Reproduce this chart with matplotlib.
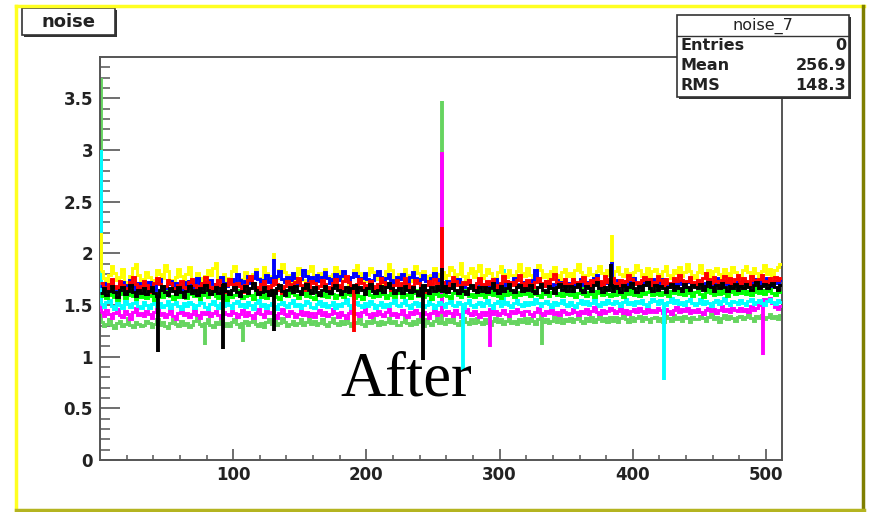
import numpy as np
import matplotlib
matplotlib.use('Agg')
import matplotlib.pyplot as plt
from matplotlib.patches import Rectangle

# ---------------------------------------------------------
# pedestal noise per channel pair (2 channels / bin), x0.01
# ---------------------------------------------------------
nbins = 256
edges = np.linspace(0, 512, nbins + 1)

noise_yellow = [
    183, 176, 171, 179, 188, 181, 174, 177, 185, 172, 170, 178, 186, 190, 179, 173,
    175, 182, 177, 169, 174, 184, 180, 176, 189, 183, 174, 171, 177, 185, 178, 172,
    180, 187, 175, 173, 181, 176, 170, 178, 184, 179, 186, 191, 177, 174, 180, 169,
    176, 183, 188, 179, 172, 175, 182, 177, 171, 180, 185, 176, 173, 187, 181, 175,
    178, 172, 176, 184, 190, 182, 175, 179, 173, 177, 186, 180, 174, 171, 183, 188,
    177, 174, 181, 176, 185, 178, 172, 180, 187, 183, 176, 179, 174, 170, 177, 184,
    189, 181, 176, 173, 179, 186, 182, 175, 178, 171, 176, 183, 190, 184, 177, 174,
    180, 177, 185, 179, 173, 176, 188, 181, 175, 183, 178, 172, 179, 186, 176, 180,
    182, 176, 179, 187, 184, 175, 180, 191, 178, 174, 181, 186, 177, 183, 189, 176,
    179, 185, 181, 176, 174, 182, 188, 180, 177, 184, 179, 175, 183, 190, 181, 178,
    186, 179, 175, 181, 189, 184, 177, 180, 176, 183, 187, 179, 174, 182, 185, 178,
    181, 177, 184, 190, 182, 176, 179, 186, 180, 175, 183, 188, 181, 177, 184, 179,
    176, 183, 187, 180, 178, 185, 181, 174, 182, 189, 184, 178, 180, 186, 177, 183,
    185, 180, 177, 183, 188, 179, 176, 184, 181, 187, 178, 182, 190, 183, 179, 176,
    182, 189, 181, 178, 184, 177, 183, 186, 180, 176, 185, 181, 178, 187, 182, 179,
    177, 184, 188, 182, 179, 186, 181, 176, 183, 189, 180, 185, 178, 184, 187, 190]
noise_red = [
    171, 167, 164, 170, 175, 168, 166, 173, 169, 162, 166, 172, 177, 170, 165, 168,
    173, 169, 163, 167, 171, 176, 170, 165, 168, 174, 171, 166, 162, 169, 173, 167,
    166, 172, 175, 169, 164, 168, 171, 177, 172, 167, 165, 170, 174, 168, 163, 169,
    175, 170, 166, 171, 168, 163, 169, 174, 178, 171, 167, 164, 170, 173, 168, 165,
    169, 174, 170, 165, 162, 168, 173, 170, 166, 172, 176, 169, 165, 171, 167, 173,
    171, 166, 168, 174, 170, 167, 164, 171, 175, 169, 166, 173, 178, 172, 168, 165,
    170, 175, 171, 166, 169, 173, 168, 164, 170, 176, 172, 167, 171, 165, 169, 174,
    167, 171, 176, 170, 165, 168, 174, 171, 167, 163, 169, 173, 170, 175, 171, 166,
    172, 168, 165, 171, 177, 173, 169, 166, 172, 170, 174, 168, 165, 171, 176, 170,
    168, 173, 170, 175, 169, 166, 171, 178, 173, 168, 172, 169, 174, 179, 171, 167,
    174, 170, 167, 172, 176, 171, 168, 173, 169, 175, 180, 172, 168, 171, 175, 170,
    169, 175, 172, 168, 173, 177, 171, 167, 174, 170, 176, 173, 169, 178, 172, 175,
    176, 171, 168, 174, 170, 173, 179, 175, 170, 172, 168, 174, 177, 171, 175, 169,
    172, 178, 174, 169, 175, 171, 168, 176, 173, 179, 174, 170, 173, 177, 172, 168,
    174, 170, 176, 181, 175, 171, 177, 173, 169, 174, 178, 172, 176, 170, 175, 179,
    171, 176, 173, 169, 178, 174, 170, 175, 179, 173, 170, 176, 172, 177, 174, 176]
noise_blue = [
    168, 171, 165, 169, 173, 167, 163, 170, 172, 166, 169, 174, 168, 164, 171, 167,
    170, 166, 172, 169, 165, 171, 175, 168, 166, 170, 173, 167, 171, 169, 164, 172,
    169, 173, 167, 170, 176, 171, 166, 172, 169, 174, 170, 167, 173, 177, 171, 168,
    172, 175, 170, 180, 174, 169, 173, 178, 171, 176, 182, 175, 170, 174, 179, 172,
    176, 171, 178, 183, 175, 172, 177, 174, 181, 176, 171, 175, 184, 178, 173, 177,
    174, 179, 173, 177, 182, 176, 171, 175, 180, 174, 178, 183, 176, 172, 177, 181,
    178, 173, 176, 181, 175, 170, 174, 179, 183, 177, 172, 176, 180, 174, 171, 177,
    175, 180, 174, 171, 177, 182, 176, 172, 175, 179, 173, 170, 176, 181, 175, 172,
    171, 168, 173, 170, 166, 172, 175, 169, 167, 171, 174, 168, 165, 170, 173, 169,
    168, 172, 167, 171, 175, 170, 166, 169, 173, 168, 171, 176, 170, 167, 172, 169,
    172, 169, 174, 184, 176, 170, 168, 173, 171, 167, 170, 174, 169, 172, 168, 171,
    170, 173, 168, 171, 175, 169, 172, 167, 170, 176, 179, 172, 168, 171, 174, 169,
    167, 171, 174, 170, 168, 173, 169, 172, 176, 171, 167, 170, 173, 169, 172, 175,
    171, 168, 172, 175, 170, 167, 171, 174, 169, 173, 170, 167, 172, 176, 170, 168,
    173, 170, 167, 171, 174, 169, 172, 176, 171, 168, 173, 170, 175, 171, 168, 172,
    170, 174, 171, 168, 172, 175, 170, 173, 169, 172, 176, 171, 168, 173, 171, 174]
noise_black = [
    162, 166, 160, 164, 168, 163, 158, 165, 167, 161, 164, 169, 163, 159, 165, 162,
    166, 161, 164, 167, 162, 159, 165, 168, 163, 160, 166, 164, 161, 167, 163, 158,
    164, 168, 162, 165, 160, 166, 163, 169, 165, 161, 164, 167, 162, 166, 170, 164,
    161, 165, 167, 163, 159, 164, 168, 162, 166, 171, 165, 161, 163, 167, 164, 160,
    165, 162, 166, 169, 164, 160, 165, 167, 163, 168, 164, 161, 166, 170, 165, 162,
    167, 163, 160, 165, 168, 164, 162, 166, 169, 165, 161, 164, 167, 163, 166, 169,
    163, 167, 165, 161, 166, 170, 164, 162, 165, 168, 163, 167, 171, 166, 162, 165,
    166, 162, 168, 165, 163, 167, 164, 160, 166, 169, 165, 162, 167, 164, 168, 165,
    164, 168, 163, 166, 170, 165, 162, 167, 164, 161, 166, 169, 165, 163, 167, 164,
    167, 163, 166, 171, 165, 162, 168, 164, 166, 170, 165, 163, 167, 169, 164, 166,
    165, 169, 164, 162, 167, 170, 165, 163, 168, 166, 162, 167, 170, 165, 168, 164,
    168, 164, 167, 170, 165, 163, 168, 166, 164, 169, 172, 166, 163, 167, 165, 169,
    164, 168, 166, 163, 169, 165, 167, 171, 166, 163, 168, 165, 169, 172, 166, 164,
    169, 165, 168, 166, 163, 167, 170, 165, 168, 166, 164, 170, 167, 165, 169, 167,
    166, 170, 165, 168, 172, 167, 164, 169, 166, 171, 167, 164, 168, 166, 170, 165,
    168, 166, 170, 167, 165, 169, 172, 166, 168, 170, 166, 169, 171, 167, 165, 169]
noise_green = [
    159, 162, 157, 160, 164, 158, 155, 161, 163, 157, 160, 165, 159, 156, 162, 158,
    161, 157, 163, 159, 155, 160, 164, 158, 162, 166, 159, 156, 161, 158, 163, 160,
    157, 161, 164, 159, 162, 156, 160, 163, 158, 161, 165, 159, 157, 162, 160, 155,
    162, 158, 160, 165, 161, 157, 159, 163, 160, 156, 162, 164, 158, 161, 157, 163,
    160, 164, 158, 156, 161, 163, 159, 162, 166, 160, 157, 161, 164, 159, 162, 158,
    156, 160, 163, 159, 162, 158, 164, 161, 157, 160, 163, 158, 161, 165, 160, 157,
    161, 159, 156, 162, 165, 160, 158, 162, 159, 164, 161, 157, 160, 163, 158, 162,
    163, 158, 161, 160, 157, 162, 165, 159, 161, 158, 163, 160, 156, 161, 164, 159,
    160, 163, 159, 157, 162, 164, 160, 158, 162, 165, 159, 161, 158, 163, 160, 162,
    158, 161, 164, 160, 163, 159, 157, 162, 160, 164, 161, 158, 163, 160, 166, 161,
    162, 159, 161, 165, 160, 158, 163, 161, 159, 163, 166, 160, 162, 159, 164, 161,
    160, 164, 158, 162, 166, 161, 159, 163, 161, 158, 164, 162, 160, 165, 161, 159,
    163, 160, 165, 161, 158, 163, 161, 166, 160, 162, 159, 164, 161, 163, 167, 160,
    161, 165, 160, 163, 161, 159, 164, 162, 166, 161, 163, 160, 165, 162, 159, 163,
    164, 161, 158, 163, 166, 162, 160, 164, 161, 167, 162, 159, 163, 165, 161, 164,
    162, 166, 161, 164, 160, 163, 167, 162, 165, 161, 164, 166, 162, 160, 165, 163]
noise_cyan = [
    151, 148, 153, 155, 149, 146, 152, 150, 147, 154, 151, 148, 152, 156, 149, 147,
    153, 150, 147, 151, 155, 149, 152, 148, 150, 154, 147, 151, 153, 149, 146, 152,
    149, 153, 151, 147, 150, 155, 152, 148, 146, 151, 154, 150, 147, 152, 149, 153,
    150, 147, 152, 154, 149, 151, 148, 153, 150, 146, 152, 155, 149, 151, 147, 150,
    152, 149, 146, 151, 153, 150, 148, 152, 155, 149, 151, 147, 150, 154, 152, 148,
    147, 151, 154, 149, 152, 148, 150, 153, 147, 151, 149, 152, 156, 150, 147, 151,
    153, 150, 148, 152, 149, 154, 151, 147, 150, 153, 148, 151, 149, 152, 155, 150,
    149, 152, 155, 150, 147, 151, 153, 149, 152, 148, 150, 154, 151, 147, 150, 153,
    151, 148, 152, 154, 150, 149, 153, 151, 147, 152, 155, 150, 148, 151, 153, 149,
    152, 155, 150, 147, 152, 154, 149, 151, 153, 150, 148, 152, 155, 151, 149, 153,
    150, 153, 151, 156, 152, 149, 152, 154, 151, 148, 153, 150, 152, 155, 151, 149,
    153, 150, 148, 152, 155, 151, 154, 150, 152, 156, 151, 149, 153, 151, 155, 152,
    151, 154, 152, 149, 153, 156, 151, 153, 150, 154, 152, 155, 151, 149, 153, 156,
    154, 151, 155, 152, 150, 153, 157, 152, 155, 151, 153, 150, 154, 156, 152, 150,
    152, 156, 151, 154, 152, 149, 153, 155, 151, 154, 157, 152, 150, 154, 153, 151,
    155, 152, 150, 154, 156, 151, 153, 155, 152, 150, 154, 156, 153, 151, 155, 153]
noise_magenta = [
    143, 139, 145, 141, 137, 142, 146, 140, 138, 144, 141, 136, 143, 147, 140, 142,
    139, 144, 141, 137, 143, 146, 140, 142, 138, 141, 145, 139, 136, 142, 144, 140,
    142, 138, 141, 145, 140, 137, 143, 141, 146, 139, 142, 144, 140, 137, 143, 141,
    140, 144, 142, 138, 141, 145, 139, 143, 140, 137, 142, 146, 141, 138, 144, 142,
    143, 140, 137, 142, 146, 141, 139, 144, 142, 138, 141, 145, 140, 143, 139, 142,
    138, 142, 145, 140, 143, 139, 141, 146, 142, 138, 143, 140, 137, 142, 145, 141,
    142, 139, 143, 146, 141, 138, 142, 140, 144, 141, 139, 143, 146, 140, 142, 138,
    141, 145, 140, 138, 143, 141, 145, 142, 139, 143, 141, 137, 142, 145, 140, 143,
    143, 140, 144, 142, 139, 145, 141, 138, 143, 146, 142, 140, 144, 141, 138, 143,
    140, 143, 146, 141, 144, 140, 142, 145, 141, 139, 144, 142, 146, 143, 140, 144,
    144, 141, 139, 143, 147, 142, 140, 144, 142, 145, 141, 143, 140, 145, 143, 141,
    142, 146, 143, 140, 144, 142, 146, 141, 144, 148, 143, 141, 145, 142, 144, 147,
    145, 142, 144, 147, 142, 145, 141, 144, 146, 143, 147, 144, 142, 146, 143, 145,
    143, 147, 145, 142, 146, 144, 141, 145, 148, 143, 146, 144, 147, 142, 145, 143,
    146, 143, 141, 145, 147, 144, 146, 142, 145, 149, 144, 146, 143, 147, 145, 144,
    147, 144, 146, 143, 149, 145, 147, 150, 153, 156, 154, 157, 152, 148, 146, 149]
noise_lgreen = [
    134, 130, 132, 136, 131, 128, 133, 135, 130, 132, 137, 131, 129, 134, 132, 130,
    131, 135, 133, 129, 132, 136, 131, 134, 130, 128, 133, 136, 132, 130, 135, 131,
    133, 129, 131, 135, 138, 132, 130, 133, 136, 131, 129, 134, 132, 135, 130, 133,
    130, 134, 136, 132, 129, 133, 135, 131, 134, 137, 132, 130, 133, 129, 134, 136,
    132, 135, 131, 133, 137, 134, 130, 132, 135, 131, 133, 136, 131, 134, 138, 132,
    135, 131, 133, 136, 132, 130, 134, 137, 133, 131, 135, 132, 136, 133, 130, 134,
    133, 136, 132, 130, 135, 133, 137, 134, 131, 135, 132, 134, 137, 133, 135, 131,
    131, 134, 137, 133, 131, 135, 132, 136, 134, 130, 136, 133, 131, 135, 137, 133,
    134, 132, 136, 134, 138, 133, 131, 135, 137, 134, 132, 136, 133, 137, 134, 132,
    136, 133, 131, 135, 137, 134, 136, 132, 135, 138, 133, 135, 132, 136, 134, 137,
    133, 137, 135, 132, 136, 139, 134, 136, 133, 135, 138, 134, 137, 133, 136, 135,
    137, 134, 136, 139, 135, 133, 137, 135, 138, 134, 136, 140, 135, 137, 134, 138,
    135, 138, 134, 137, 140, 136, 134, 138, 135, 137, 139, 135, 138, 136, 134, 137,
    138, 135, 137, 134, 139, 137, 135, 140, 136, 138, 135, 139, 137, 134, 138, 136,
    136, 139, 137, 135, 138, 141, 136, 138, 134, 137, 140, 136, 139, 137, 135, 138,
    139, 136, 138, 141, 137, 135, 139, 137, 140, 136, 138, 141, 137, 139, 136, 140]

# single-channel outliers: channel, value
spk_ch_yellow, spk_val_yellow = [0, 130, 384], [2.2, 2.0, 2.18]
spk_ch_red, spk_val_red = [190, 256], [1.24, 2.25]
spk_ch_blue, spk_val_blue = [130, 384], [1.95, 1.92]
spk_ch_black, spk_val_black = [43, 92, 130, 242, 256, 383], [1.05, 1.07, 1.25, 0.97, 1.86, 1.9]
spk_ch_green, spk_val_green = [], []
spk_ch_cyan, spk_val_cyan = [0, 272, 303, 423], [3.0, 0.87, 1.85, 0.77]
spk_ch_magenta, spk_val_magenta = [0, 256, 292, 497], [2.9, 2.98, 1.09, 1.02]
spk_ch_lgreen, spk_val_lgreen = [0, 78, 107, 256, 331], [3.7, 1.11, 1.14, 3.47, 1.11]

# drawing order, bottom to top
series = [
    (noise_lgreen, '#66d460', spk_ch_lgreen, spk_val_lgreen),
    (noise_magenta, '#ff00ff', spk_ch_magenta, spk_val_magenta),
    (noise_cyan, '#00ffff', spk_ch_cyan, spk_val_cyan),
    (noise_green, '#00ff00', spk_ch_green, spk_val_green),
    (noise_yellow, '#ffff00', spk_ch_yellow, spk_val_yellow),
    (noise_blue, '#0000ff', spk_ch_blue, spk_val_blue),
    (noise_red, '#ff0000', spk_ch_red, spk_val_red),
    (noise_black, '#000000', spk_ch_black, spk_val_black),
]

W, H = 869, 512
fig = plt.figure(figsize=(W / 100, H / 100), dpi=100)
fig.patch.set_facecolor('white')

ax = fig.add_axes([100 / W, 1 - 460 / H, 682 / W, 403 / H])
for z, (vals, col, sch, sval) in enumerate(series):
    v = np.array(vals) / 100.0
    ax.stairs(v, edges, baseline=None, color=col, lw=2.1, zorder=2 + z)
    for ch, sv in zip(sch, sval):
        base = v[min(int(ch // 2), nbins - 1)]
        ax.vlines(ch + 0.5, base, sv, color=col, lw=2.8, zorder=2 + z)

ax.set_xlim(0, 512)
ax.set_ylim(0, 3.9)
ax.set_xticks([100, 200, 300, 400, 500])
ax.set_xticks(np.arange(20, 512, 20), minor=True)
ax.set_yticks(np.arange(0, 3.6, 0.5))
ax.set_yticklabels(['0', '0.5', '1', '1.5', '2', '2.5', '3', '3.5'])
ax.set_yticks(np.arange(0.1, 3.9, 0.1), minor=True)

tick_col = '#555555'
for s in ax.spines.values():
    s.set_color(tick_col)
    s.set_linewidth(1.4)
ax.tick_params(axis='y', which='major', direction='in', length=14.5, width=1.2,
               color=tick_col, pad=5)
ax.tick_params(axis='y', which='minor', direction='in', length=7, width=1.1, color=tick_col)
ax.tick_params(axis='x', which='major', direction='in', length=8, width=1.2,
               color=tick_col, pad=4)
ax.tick_params(axis='x', which='minor', direction='in', length=3.5, width=1.1, color=tick_col)
for lab in ax.get_xticklabels() + ax.get_yticklabels():
    lab.set_fontfamily('DejaVu Sans')
    lab.set_fontweight('bold')
    lab.set_fontsize(12)
    lab.set_color('#222222')

# overlay in pixel coordinates: canvas border, title box, stats box, caption
ov = fig.add_axes([0, 0, 1, 1], zorder=10)
ov.set_xlim(0, W)
ov.set_ylim(H, 0)
ov.axis('off')
ov.patch.set_alpha(0)

ov.plot([16, 16], [6, 510], color='#ffff20', lw=2.5)
ov.plot([16, 864], [6, 6], color='#ffff20', lw=2.5)
ov.plot([863, 863], [6, 510], color='#7f7f00', lw=2.5)
ov.plot([16, 864], [509.5, 509.5], color='#b4b420', lw=2.5)

# title box
ov.add_patch(Rectangle((24, 10), 93, 27, facecolor='#333333', edgecolor='none'))
ov.add_patch(Rectangle((22, 8), 93, 27, facecolor='white', edgecolor='#333333', lw=1.2))
ov.text(68.5, 22, 'noise', ha='center', va='center', fontsize=13,
        fontweight='bold', family='DejaVu Sans', color='#222222')

# stats box
ov.add_patch(Rectangle((679, 17), 172, 82, facecolor='#333333', edgecolor='none'))
ov.add_patch(Rectangle((677, 15), 172, 82, facecolor='white', edgecolor='#333333', lw=1.2))
ov.plot([677, 849], [36, 36], color='#333333', lw=1.0)
ov.text(763, 25.5, 'noise_7', ha='center', va='center', fontsize=11.5,
        family='DejaVu Sans', color='#222222')
stat_names = ['Entries', 'Mean', 'RMS']
stat_vals = ['0', '256.9', '148.3']
for i, (nm, vl) in enumerate(zip(stat_names, stat_vals)):
    yy = 45 + i * 20.5
    ov.text(681, yy, nm, ha='left', va='center', fontsize=11.5,
            fontweight='bold', family='DejaVu Sans', color='#222222')
    ov.text(846, yy, vl, ha='right', va='center', fontsize=11.5,
            fontweight='bold', family='DejaVu Sans', color='#222222')

ov.text(340, 396, 'After', ha='left', va='baseline', fontsize=45,
        family='Liberation Serif', color='black')

fig.savefig('out.png', dpi=100)
